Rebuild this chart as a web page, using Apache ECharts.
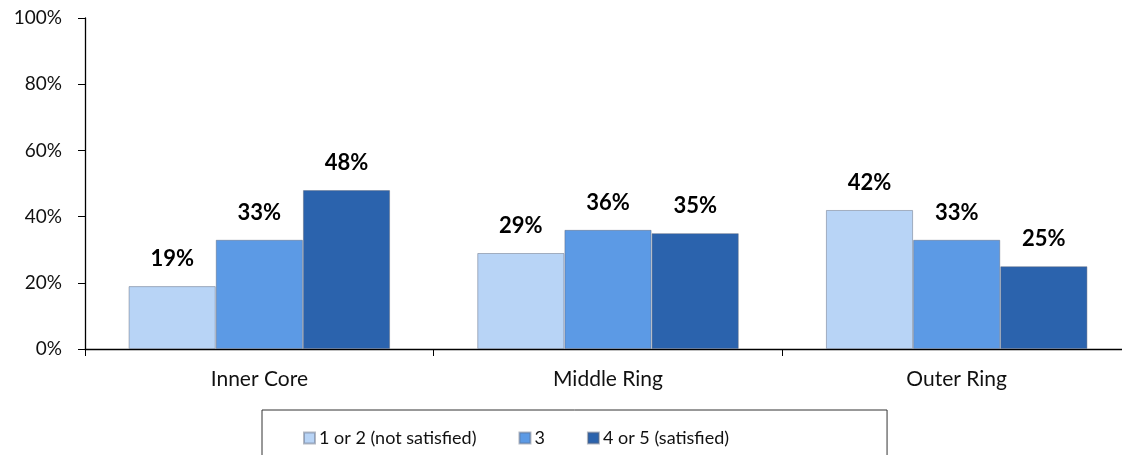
<!DOCTYPE html>
<html><head><meta charset="utf-8">
<script src="https://cdn.jsdelivr.net/npm/echarts@6/dist/echarts.min.js"></script>
<style>html,body{margin:0;padding:0;background:#fff;overflow:hidden}#c{width:1131px;height:455px}</style>
</head><body><div id="c"></div>
<script>
const categories = ['Inner Core', 'Middle Ring', 'Outer Ring'];
const seriesNames = ['1 or 2 (not satisfied)', '3', '4 or 5 (satisfied)'];
const notSatisfied = [19, 29, 42];
const neutral = [33, 36, 33];
const satisfied = [48, 35, 25];
const yTicks = [0, 20, 40, 60, 80, 100];
const colors = ['#B8D4F6', '#5C9AE5', '#2B63AD'];

const FONT = 'Lato, "Liberation Sans", sans-serif';
const chart = echarts.init(document.getElementById('c'));
const values = [notSatisfied, neutral, satisfied];
chart.setOption({
  animation: false,
  grid: { left: 85, right: 0, top: 18, bottom: 106 },
  xAxis: {
    type: 'category', data: categories,
    axisLine: { lineStyle: { color: '#000', width: 1.3 } },
    axisTick: { show: true, length: 7, lineStyle: { color: '#000' } },
    axisLabel: { color: '#111', fontSize: 21, fontFamily: FONT, margin: 20 }
  },
  yAxis: {
    type: 'value', min: 0, max: 100, interval: 20,
    axisLine: { show: true, lineStyle: { color: '#000', width: 1.3 } },
    axisTick: { show: true, length: 7, lineStyle: { color: '#000' } },
    splitLine: { show: false },
    axisLabel: { color: '#111', fontSize: 19, fontFamily: FONT, margin: 23,
      formatter: v => yTicks.includes(v) ? v + '%' : '' }
  },
  legend: {
    left: 262, top: 410, padding: [19, 158, 30, 41], itemGap: 42,
    itemWidth: 11, itemHeight: 11, borderColor: '#333', borderWidth: 1,
    icon: 'rect',
    textStyle: { fontSize: 18, fontFamily: FONT, color: '#111', padding: [0, 0, 0, -1] },
    data: seriesNames
  },
  series: seriesNames.map((n, i) => ({
    name: n, type: 'bar', data: values[i],
    barGap: 0, barCategoryGap: '25%',
    itemStyle: { color: colors[i], borderColor: 'rgba(90,100,120,0.45)', borderWidth: 1 },
    label: { show: true, position: 'top', distance: 16, formatter: '{c}%',
      fontSize: 22, fontWeight: 'bold', color: '#000', fontFamily: FONT }
  }))
});
</script></body></html>
